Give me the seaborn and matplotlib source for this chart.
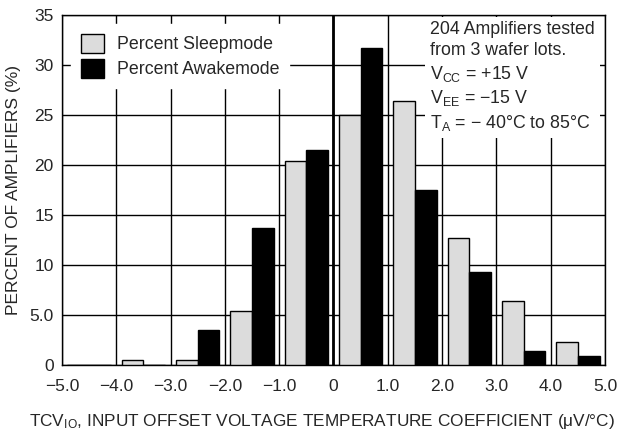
import matplotlib
matplotlib.use("Agg")
from matplotlib import pyplot as plt
from matplotlib.patches import Patch
import seaborn as sns
import pandas as pd

# histogram bins (uV/C), centre of each 1.0 wide bin
bin_centers = [-4.5, -3.5, -2.5, -1.5, -0.5, 0.5, 1.5, 2.5, 3.5, 4.5]
sleep_pct = [0.0, 0.5, 0.5, 5.4, 20.4, 25.0, 26.4, 12.7, 6.4, 2.3]
awake_pct = [0.0, 0.0, 3.5, 13.7, 21.5, 31.7, 17.5, 9.3, 1.4, 0.9]
series = ["Percent Sleepmode", "Percent Awakemode"]

x_ticks = [-5, -4, -3, -2, -1, 0, 1, 2, 3, 4, 5]
x_labels = ["\u22125.0", "\u22124.0", "\u22123.0", "\u22122.0", "\u22121.0",
            "0", "1.0", "2.0", "3.0", "4.0", "5.0"]
y_ticks = [0, 5, 10, 15, 20, 25, 30, 35]
y_labels = ["0", "5.0", "10", "15", "20", "25", "30", "35"]

df = pd.DataFrame({
    "tcv": bin_centers * 2,
    "pct": sleep_pct + awake_pct,
    "mode": [series[0]] * len(bin_centers) + [series[1]] * len(bin_centers),
})

sns.set_style("white")
plt.rcParams["font.family"] = ["Liberation Sans", "DejaVu Sans"]
plt.rcParams["mathtext.fontset"] = "custom"
plt.rcParams["mathtext.rm"] = "Liberation Sans"

colors = ["#dcdcdc", "black"]

fig = plt.figure(figsize=(6.21, 4.36), dpi=100)
ax = fig.add_axes([0.0998, 0.163, 0.8744, 0.8026])

sns.barplot(data=df, x="tcv", y="pct", hue="mode", hue_order=series,
            palette=colors, native_scale=True, edgecolor="black",
            linewidth=1, saturation=1, legend=False, ax=ax, zorder=3)

ax.set_xlim(-5, 5)
ax.set_ylim(0, 35)
ax.set_xticks(x_ticks, x_labels)
ax.set_yticks(y_ticks, y_labels)
ax.tick_params(length=0, labelsize=12.5)
ax.tick_params(axis="x", pad=10)
ax.tick_params(axis="y", pad=6)
ax.grid(True, color="black", lw=1)
ax.set_axisbelow(True)
ax.axvline(0, color="black", lw=2, zorder=4)
for s in ax.spines.values():
    s.set_color("black")
    s.set_linewidth(1)

ax.set_xlabel("TCV$\\mathregular{_{IO}}$, INPUT OFFSET VOLTAGE TEMPERATURE COEFFICIENT (\u03bcV/\u00b0C)",
              fontsize=12.4, loc="left")
ax.xaxis.set_label_coords(-0.06, -0.135)
ax.set_ylabel("PERCENT OF AMPLIFIERS (%)", fontsize=12.5, labelpad=6)

handles = [Patch(facecolor=c, edgecolor="black", lw=1) for c in colors]
leg = ax.legend(handles, series, loc="upper left", fontsize=12.8, frameon=True,
                fancybox=False, framealpha=1, edgecolor="white",
                handlelength=1.3, handleheight=1.3, handletextpad=0.75,
                labelspacing=0.3, borderpad=0.55, bbox_to_anchor=(0.0, 1.0))
leg.set_zorder(6)

note = ("204 Amplifiers tested\nfrom 3 wafer lots.\n"
        "V$\\mathregular{_{CC}}$ = +15 V\nV$\\mathregular{_{EE}}$ = \u221215 V\n"
        "T$\\mathregular{_{A}}$ = \u2212 40\u00b0C to 85\u00b0C")
ax.text(0.678, 0.982, note, transform=ax.transAxes, ha="left", va="top",
        fontsize=12.8, linespacing=1.3, zorder=6,
        bbox=dict(facecolor="white", edgecolor="none", pad=4))

plt.savefig("out.png", dpi=100)
